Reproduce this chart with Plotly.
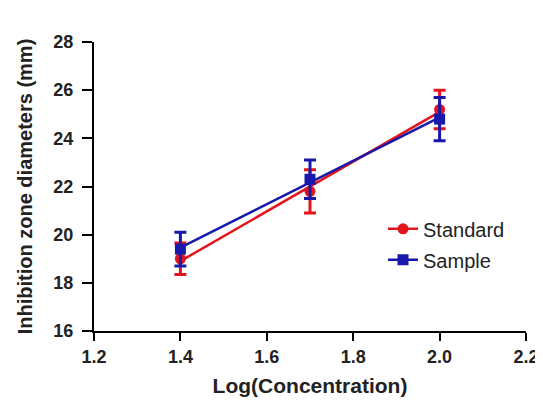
import numpy as np
import plotly.graph_objects as go

log_conc = [1.4, 1.7, 2.0]
standard_mean = [19.0, 21.8, 25.2]
standard_err = [0.65, 0.9, 0.8]
sample_mean = [19.4, 22.3, 24.8]
sample_err = [0.7, 0.8, 0.9]

x_ticks = [1.2, 1.4, 1.6, 1.8, 2.0, 2.2]
x_tick_labels = ["1.2", "1.4", "1.6", "1.8", "2.0", "2.2"]
y_ticks = [16, 18, 20, 22, 24, 26, 28]

RED = "#e3141b"
BLUE = "#1818aa"
FONT = "Liberation Sans, Arial, sans-serif"

fig = go.Figure()

series = [
    ("Standard", standard_mean, standard_err, RED, "circle"),
    ("Sample", sample_mean, sample_err, BLUE, "square"),
]

for name, mean, err, color, symbol in series:
    slope, intercept = np.polyfit(log_conc, mean, 1)
    xs = [log_conc[0], log_conc[-1]]
    ys = [slope * v + intercept for v in xs]
    fig.add_trace(go.Scatter(
        x=xs, y=ys, mode="lines", line=dict(color=color, width=2.5),
        showlegend=False, hoverinfo="skip",
    ))
    fig.add_trace(go.Scatter(
        x=log_conc, y=mean, mode="markers",
        marker=dict(color=color, symbol=symbol, size=11),
        error_y=dict(type="data", array=err, color=color, thickness=3, width=6),
        showlegend=False,
    ))

for name, mean, err, color, symbol in series:
    fig.add_trace(go.Scatter(
        x=[None], y=[None], mode="lines+markers", name=name, legendgroup=name,
        line=dict(color=color, width=2.5),
        marker=dict(color=color, symbol=symbol, size=11),
    ))

# page body has a default 8px margin, so the figure is sized to fit the window
fig.update_layout(
    width=535, height=396,
    margin=dict(l=86, r=17, t=34, b=73),
    plot_bgcolor="white", paper_bgcolor="white",
    showlegend=True,
    legend=dict(
        x=0.669, y=0.30, xanchor="left", yanchor="middle",
        font=dict(family=FONT, size=20, color="#222"),
        tracegroupgap=2, traceorder="grouped",
        bgcolor="rgba(0,0,0,0)", itemwidth=30,
    ),
    xaxis=dict(
        range=[1.2, 2.2], tickvals=x_ticks, ticktext=x_tick_labels, automargin=False,
        showgrid=False, zeroline=False, showline=True, linecolor="black", linewidth=2,
        ticks="outside", ticklen=8, tickwidth=2, tickcolor="black",
        tickfont=dict(family=FONT, size=18, color="#222", weight="bold"),
        title=dict(text="<b>Log(Concentration)</b>", font=dict(family=FONT, size=21, color="#222"), standoff=13),
    ),
    yaxis=dict(
        range=[16, 28], tickvals=y_ticks, automargin=False,
        showgrid=False, zeroline=False, showline=True, linecolor="black", linewidth=2,
        ticks="outside", ticklen=10, tickwidth=2, tickcolor="black", ticklabelstandoff=5,
        tickfont=dict(family=FONT, size=18, color="#222", weight="bold"),
        title=dict(text="<b>Inhibition zone diameters (mm)</b>", font=dict(family=FONT, size=20, color="#222"), standoff=15),
    ),
)

fig.add_shape(type="line", xref="x domain", yref="y domain", x0=-0.016, x1=0, y0=0, y1=0,
              line=dict(color="black", width=2))

fig.write_html("out.html")
